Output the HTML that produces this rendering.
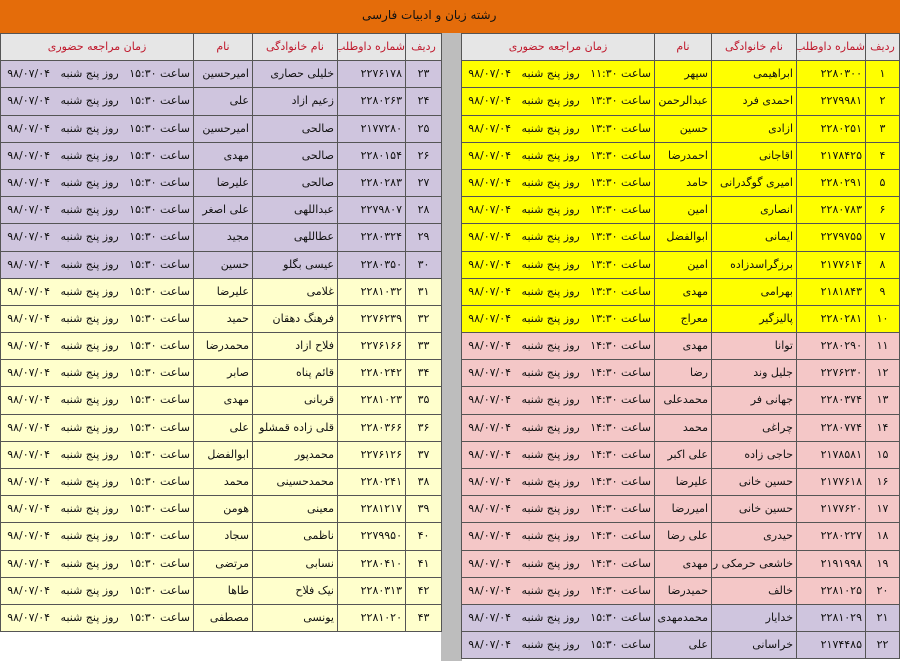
<!DOCTYPE html>
<html><head><meta charset="utf-8">
<style>
*{margin:0;padding:0;box-sizing:border-box}
body{width:900px;height:661px;overflow:hidden;background:#fff;font-family:"DejaVu Sans","Liberation Sans",sans-serif;position:relative}
.top{position:absolute;left:0;top:0;width:900px;height:33px;background:#E46C0A;}
.top span{position:absolute;left:362px;top:8px;font-size:12px;color:#111;direction:rtl}
.gap{position:absolute;left:441px;top:33px;width:21px;height:628px;background:#BDBDBD}
.g{position:absolute;top:33px;display:grid;direction:rtl;background:#555;gap:1px;border:1px solid #555;grid-auto-rows:26.2px}
.r{left:461px;width:439px;grid-template-columns:33px 68px 84px 56px 1fr}
.l{left:0;width:442px;grid-template-columns:35px 67px 84px 58px 1fr}
.g div{font-size:11px;line-height:26px;white-space:nowrap;overflow:hidden;padding:0 3px;text-align:right;color:#111}
.g div.h{background:#E6E6E6;color:#C0182C;text-align:center;padding:0;font-size:11px}
.g div.c{text-align:center}
.Y div{background:#FFFF00}
.P div{background:#F4C7C7}
.V div{background:#CFC5DE}
.L div{background:#FFFFCC}
.row{display:contents}
</style></head><body>
<div class="top"><span>رشته زبان و ادبیات فارسی</span></div>
<div class="gap"></div>

<div class="g r">
<div class="h">ردیف</div><div class="h">شماره داوطلب</div><div class="h">نام خانوادگی</div><div class="h">نام</div><div class="h">زمان مراجعه حضوری</div>
<div class="row Y"><div class="c">۱</div><div>۲۲۸۰۳۰۰</div><div>ابراهیمی</div><div>سپهر</div><div>ساعت ۱۱:۳۰&nbsp;&nbsp; روز پنج شنبه&nbsp;&nbsp; ۹۸/۰۷/۰۴</div></div>
<div class="row Y"><div class="c">۲</div><div>۲۲۷۹۹۸۱</div><div>احمدی فرد</div><div>عبدالرحمن</div><div>ساعت ۱۳:۳۰&nbsp;&nbsp; روز پنج شنبه&nbsp;&nbsp; ۹۸/۰۷/۰۴</div></div>
<div class="row Y"><div class="c">۳</div><div>۲۲۸۰۲۵۱</div><div>ازادی</div><div>حسین</div><div>ساعت ۱۳:۳۰&nbsp;&nbsp; روز پنج شنبه&nbsp;&nbsp; ۹۸/۰۷/۰۴</div></div>
<div class="row Y"><div class="c">۴</div><div>۲۱۷۸۴۲۵</div><div>اقاجانی</div><div>احمدرضا</div><div>ساعت ۱۳:۳۰&nbsp;&nbsp; روز پنج شنبه&nbsp;&nbsp; ۹۸/۰۷/۰۴</div></div>
<div class="row Y"><div class="c">۵</div><div>۲۲۸۰۲۹۱</div><div>امیری گوگدرانی</div><div>حامد</div><div>ساعت ۱۳:۳۰&nbsp;&nbsp; روز پنج شنبه&nbsp;&nbsp; ۹۸/۰۷/۰۴</div></div>
<div class="row Y"><div class="c">۶</div><div>۲۲۸۰۷۸۳</div><div>انصاری</div><div>امین</div><div>ساعت ۱۳:۳۰&nbsp;&nbsp; روز پنج شنبه&nbsp;&nbsp; ۹۸/۰۷/۰۴</div></div>
<div class="row Y"><div class="c">۷</div><div>۲۲۷۹۷۵۵</div><div>ایمانی</div><div>ابوالفضل</div><div>ساعت ۱۳:۳۰&nbsp;&nbsp; روز پنج شنبه&nbsp;&nbsp; ۹۸/۰۷/۰۴</div></div>
<div class="row Y"><div class="c">۸</div><div>۲۱۷۷۶۱۴</div><div>برزگراسدزاده</div><div>امین</div><div>ساعت ۱۳:۳۰&nbsp;&nbsp; روز پنج شنبه&nbsp;&nbsp; ۹۸/۰۷/۰۴</div></div>
<div class="row Y"><div class="c">۹</div><div>۲۱۸۱۸۴۳</div><div>بهرامی</div><div>مهدی</div><div>ساعت ۱۳:۳۰&nbsp;&nbsp; روز پنج شنبه&nbsp;&nbsp; ۹۸/۰۷/۰۴</div></div>
<div class="row Y"><div class="c">۱۰</div><div>۲۲۸۰۲۸۱</div><div>پالیزگیر</div><div>معراج</div><div>ساعت ۱۳:۳۰&nbsp;&nbsp; روز پنج شنبه&nbsp;&nbsp; ۹۸/۰۷/۰۴</div></div>
<div class="row P"><div class="c">۱۱</div><div>۲۲۸۰۲۹۰</div><div>توانا</div><div>مهدی</div><div>ساعت ۱۴:۳۰&nbsp;&nbsp; روز پنج شنبه&nbsp;&nbsp; ۹۸/۰۷/۰۴</div></div>
<div class="row P"><div class="c">۱۲</div><div>۲۲۷۶۲۳۰</div><div>جلیل وند</div><div>رضا</div><div>ساعت ۱۴:۳۰&nbsp;&nbsp; روز پنج شنبه&nbsp;&nbsp; ۹۸/۰۷/۰۴</div></div>
<div class="row P"><div class="c">۱۳</div><div>۲۲۸۰۳۷۴</div><div>جهانی فر</div><div>محمدعلی</div><div>ساعت ۱۴:۳۰&nbsp;&nbsp; روز پنج شنبه&nbsp;&nbsp; ۹۸/۰۷/۰۴</div></div>
<div class="row P"><div class="c">۱۴</div><div>۲۲۸۰۷۷۴</div><div>چراغی</div><div>محمد</div><div>ساعت ۱۴:۳۰&nbsp;&nbsp; روز پنج شنبه&nbsp;&nbsp; ۹۸/۰۷/۰۴</div></div>
<div class="row P"><div class="c">۱۵</div><div>۲۱۷۸۵۸۱</div><div>حاجی زاده</div><div>علی اکبر</div><div>ساعت ۱۴:۳۰&nbsp;&nbsp; روز پنج شنبه&nbsp;&nbsp; ۹۸/۰۷/۰۴</div></div>
<div class="row P"><div class="c">۱۶</div><div>۲۱۷۷۶۱۸</div><div>حسین خانی</div><div>علیرضا</div><div>ساعت ۱۴:۳۰&nbsp;&nbsp; روز پنج شنبه&nbsp;&nbsp; ۹۸/۰۷/۰۴</div></div>
<div class="row P"><div class="c">۱۷</div><div>۲۱۷۷۶۲۰</div><div>حسین خانی</div><div>امیررضا</div><div>ساعت ۱۴:۳۰&nbsp;&nbsp; روز پنج شنبه&nbsp;&nbsp; ۹۸/۰۷/۰۴</div></div>
<div class="row P"><div class="c">۱۸</div><div>۲۲۸۰۲۲۷</div><div>حیدری</div><div>علی رضا</div><div>ساعت ۱۴:۳۰&nbsp;&nbsp; روز پنج شنبه&nbsp;&nbsp; ۹۸/۰۷/۰۴</div></div>
<div class="row P"><div class="c">۱۹</div><div>۲۱۹۱۹۹۸</div><div>خاشعی حرمکی راد</div><div>مهدی</div><div>ساعت ۱۴:۳۰&nbsp;&nbsp; روز پنج شنبه&nbsp;&nbsp; ۹۸/۰۷/۰۴</div></div>
<div class="row P"><div class="c">۲۰</div><div>۲۲۸۱۰۲۵</div><div>خالف</div><div>حمیدرضا</div><div>ساعت ۱۴:۳۰&nbsp;&nbsp; روز پنج شنبه&nbsp;&nbsp; ۹۸/۰۷/۰۴</div></div>
<div class="row V"><div class="c">۲۱</div><div>۲۲۸۱۰۲۹</div><div>خدایار</div><div>محمدمهدی</div><div>ساعت ۱۵:۳۰&nbsp;&nbsp; روز پنج شنبه&nbsp;&nbsp; ۹۸/۰۷/۰۴</div></div>
<div class="row V"><div class="c">۲۲</div><div>۲۱۷۴۴۸۵</div><div>خراسانی</div><div>علی</div><div>ساعت ۱۵:۳۰&nbsp;&nbsp; روز پنج شنبه&nbsp;&nbsp; ۹۸/۰۷/۰۴</div></div>
</div>

<div class="g l">
<div class="h">ردیف</div><div class="h">شماره داوطلب</div><div class="h">نام خانوادگی</div><div class="h">نام</div><div class="h">زمان مراجعه حضوری</div>
<div class="row V"><div class="c">۲۳</div><div>۲۲۷۶۱۷۸</div><div>خلیلی حصاری</div><div>امیرحسین</div><div>ساعت ۱۵:۳۰&nbsp;&nbsp; روز پنج شنبه&nbsp;&nbsp; ۹۸/۰۷/۰۴</div></div>
<div class="row V"><div class="c">۲۴</div><div>۲۲۸۰۲۶۳</div><div>زعیم ازاد</div><div>علی</div><div>ساعت ۱۵:۳۰&nbsp;&nbsp; روز پنج شنبه&nbsp;&nbsp; ۹۸/۰۷/۰۴</div></div>
<div class="row V"><div class="c">۲۵</div><div>۲۱۷۷۲۸۰</div><div>صالحی</div><div>امیرحسین</div><div>ساعت ۱۵:۳۰&nbsp;&nbsp; روز پنج شنبه&nbsp;&nbsp; ۹۸/۰۷/۰۴</div></div>
<div class="row V"><div class="c">۲۶</div><div>۲۲۸۰۱۵۴</div><div>صالحی</div><div>مهدی</div><div>ساعت ۱۵:۳۰&nbsp;&nbsp; روز پنج شنبه&nbsp;&nbsp; ۹۸/۰۷/۰۴</div></div>
<div class="row V"><div class="c">۲۷</div><div>۲۲۸۰۲۸۳</div><div>صالحی</div><div>علیرضا</div><div>ساعت ۱۵:۳۰&nbsp;&nbsp; روز پنج شنبه&nbsp;&nbsp; ۹۸/۰۷/۰۴</div></div>
<div class="row V"><div class="c">۲۸</div><div>۲۲۷۹۸۰۷</div><div>عبداللهی</div><div>علی اصغر</div><div>ساعت ۱۵:۳۰&nbsp;&nbsp; روز پنج شنبه&nbsp;&nbsp; ۹۸/۰۷/۰۴</div></div>
<div class="row V"><div class="c">۲۹</div><div>۲۲۸۰۳۲۴</div><div>عطاللهی</div><div>مجید</div><div>ساعت ۱۵:۳۰&nbsp;&nbsp; روز پنج شنبه&nbsp;&nbsp; ۹۸/۰۷/۰۴</div></div>
<div class="row V"><div class="c">۳۰</div><div>۲۲۸۰۳۵۰</div><div>عیسی بگلو</div><div>حسین</div><div>ساعت ۱۵:۳۰&nbsp;&nbsp; روز پنج شنبه&nbsp;&nbsp; ۹۸/۰۷/۰۴</div></div>
<div class="row L"><div class="c">۳۱</div><div>۲۲۸۱۰۳۲</div><div>غلامی</div><div>علیرضا</div><div>ساعت ۱۵:۳۰&nbsp;&nbsp; روز پنج شنبه&nbsp;&nbsp; ۹۸/۰۷/۰۴</div></div>
<div class="row L"><div class="c">۳۲</div><div>۲۲۷۶۲۳۹</div><div>فرهنگ دهقان</div><div>حمید</div><div>ساعت ۱۵:۳۰&nbsp;&nbsp; روز پنج شنبه&nbsp;&nbsp; ۹۸/۰۷/۰۴</div></div>
<div class="row L"><div class="c">۳۳</div><div>۲۲۷۶۱۶۶</div><div>فلاح ازاد</div><div>محمدرضا</div><div>ساعت ۱۵:۳۰&nbsp;&nbsp; روز پنج شنبه&nbsp;&nbsp; ۹۸/۰۷/۰۴</div></div>
<div class="row L"><div class="c">۳۴</div><div>۲۲۸۰۲۴۲</div><div>قائم پناه</div><div>صابر</div><div>ساعت ۱۵:۳۰&nbsp;&nbsp; روز پنج شنبه&nbsp;&nbsp; ۹۸/۰۷/۰۴</div></div>
<div class="row L"><div class="c">۳۵</div><div>۲۲۸۱۰۲۳</div><div>قربانی</div><div>مهدی</div><div>ساعت ۱۵:۳۰&nbsp;&nbsp; روز پنج شنبه&nbsp;&nbsp; ۹۸/۰۷/۰۴</div></div>
<div class="row L"><div class="c">۳۶</div><div>۲۲۸۰۳۶۶</div><div>قلی زاده قمشلو</div><div>علی</div><div>ساعت ۱۵:۳۰&nbsp;&nbsp; روز پنج شنبه&nbsp;&nbsp; ۹۸/۰۷/۰۴</div></div>
<div class="row L"><div class="c">۳۷</div><div>۲۲۷۶۱۲۶</div><div>محمدپور</div><div>ابوالفضل</div><div>ساعت ۱۵:۳۰&nbsp;&nbsp; روز پنج شنبه&nbsp;&nbsp; ۹۸/۰۷/۰۴</div></div>
<div class="row L"><div class="c">۳۸</div><div>۲۲۸۰۲۴۱</div><div>محمدحسینی</div><div>محمد</div><div>ساعت ۱۵:۳۰&nbsp;&nbsp; روز پنج شنبه&nbsp;&nbsp; ۹۸/۰۷/۰۴</div></div>
<div class="row L"><div class="c">۳۹</div><div>۲۲۸۱۲۱۷</div><div>معینی</div><div>هومن</div><div>ساعت ۱۵:۳۰&nbsp;&nbsp; روز پنج شنبه&nbsp;&nbsp; ۹۸/۰۷/۰۴</div></div>
<div class="row L"><div class="c">۴۰</div><div>۲۲۷۹۹۵۰</div><div>ناظمی</div><div>سجاد</div><div>ساعت ۱۵:۳۰&nbsp;&nbsp; روز پنج شنبه&nbsp;&nbsp; ۹۸/۰۷/۰۴</div></div>
<div class="row L"><div class="c">۴۱</div><div>۲۲۸۰۴۱۰</div><div>نسابی</div><div>مرتضی</div><div>ساعت ۱۵:۳۰&nbsp;&nbsp; روز پنج شنبه&nbsp;&nbsp; ۹۸/۰۷/۰۴</div></div>
<div class="row L"><div class="c">۴۲</div><div>۲۲۸۰۳۱۳</div><div>نیک فلاح</div><div>طاها</div><div>ساعت ۱۵:۳۰&nbsp;&nbsp; روز پنج شنبه&nbsp;&nbsp; ۹۸/۰۷/۰۴</div></div>
<div class="row L"><div class="c">۴۳</div><div>۲۲۸۱۰۲۰</div><div>یونسی</div><div>مصطفی</div><div>ساعت ۱۵:۳۰&nbsp;&nbsp; روز پنج شنبه&nbsp;&nbsp; ۹۸/۰۷/۰۴</div></div>
</div>
</body></html>
